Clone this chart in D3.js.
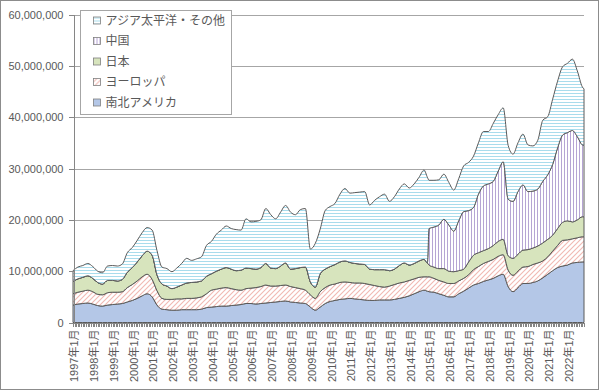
<!DOCTYPE html>
<html>
<head>
<meta charset="utf-8">
<script src="https://cdn.jsdelivr.net/npm/d3@7"></script>
<style>
    html, body { margin: 0; padding: 0; background: #fff; }
    svg { display: block; font-family: "Liberation Sans", "Noto Sans CJK JP", sans-serif; }
    .frame { fill: #fff; stroke: #8c8c8c; }
    .grid line { stroke: #a6a6a6; shape-rendering: crispEdges; }
    .axis path, .axis line { stroke: #868686; shape-rendering: crispEdges; }
    .axis text { fill: #595959; font-size: 11px; }
    .layer { stroke: #5a5a5a; stroke-width: 1; stroke-linejoin: round; }
    .legend rect.box { fill: #fff; stroke: #a6a6a6; shape-rendering: crispEdges; }
    .legend rect.chip { stroke: #7f7f7f; stroke-width: 0.8; }
    .legend text { fill: #595959; font-size: 12px; }
</style>
</head>
<body>
<script>
'use strict';

// Quarterly samples (plus Dec 2014 so China's start is a clean step), values in millions.
const months = [
    '1997-01', '1997-04', '1997-07', '1997-10',
    '1998-01', '1998-04', '1998-07', '1998-10',
    '1999-01', '1999-04', '1999-07', '1999-10',
    '2000-01', '2000-04', '2000-07', '2000-10',
    '2001-01', '2001-04', '2001-07', '2001-10',
    '2002-01', '2002-04', '2002-07', '2002-10',
    '2003-01', '2003-04', '2003-07', '2003-10',
    '2004-01', '2004-04', '2004-07', '2004-10',
    '2005-01', '2005-04', '2005-07', '2005-10',
    '2006-01', '2006-04', '2006-07', '2006-10',
    '2007-01', '2007-04', '2007-07', '2007-10',
    '2008-01', '2008-04', '2008-07', '2008-10',
    '2009-01', '2009-04', '2009-07', '2009-10',
    '2010-01', '2010-04', '2010-07', '2010-10',
    '2011-01', '2011-04', '2011-07', '2011-10',
    '2012-01', '2012-04', '2012-07', '2012-10',
    '2013-01', '2013-04', '2013-07', '2013-10',
    '2014-01', '2014-04', '2014-07', '2014-10', '2014-12',
    '2015-01', '2015-04', '2015-07', '2015-10',
    '2016-01', '2016-04', '2016-07', '2016-10',
    '2017-01', '2017-04', '2017-07', '2017-10',
    '2018-01', '2018-04', '2018-07', '2018-10',
    '2019-01', '2019-04', '2019-07', '2019-10',
    '2020-01', '2020-04', '2020-07', '2020-10',
    '2021-01', '2021-04', '2021-07', '2021-10',
    '2022-01', '2022-04', '2022-07', '2022-10', '2022-11'
];

const americas = [
    3.4, 3.6, 3.7, 3.8,
    3.6, 3.3, 3.2, 3.4,
    3.5, 3.6, 3.7, 4.0,
    4.3, 4.7, 5.2, 5.6,
    5.0, 3.4, 2.6, 2.5,
    2.4, 2.4, 2.5, 2.5,
    2.5, 2.5, 2.6, 2.9,
    3.0, 3.1, 3.2, 3.2,
    3.3, 3.4, 3.5, 3.7,
    3.7, 3.6, 3.7, 3.8,
    3.9, 4.0, 4.1, 4.2,
    4.0, 3.9, 3.8, 3.7,
    3.0, 2.4, 3.0, 3.7,
    4.1, 4.3, 4.5, 4.6,
    4.7, 4.6, 4.5, 4.4,
    4.3, 4.3, 4.4, 4.4,
    4.4, 4.5, 4.7, 4.9,
    5.2, 5.6, 6.0, 6.3, 6.1,
    6.0, 5.9, 5.6, 5.3,
    5.0, 5.0, 5.6, 6.1,
    6.7, 7.3, 7.6, 8.0,
    8.3, 8.6, 9.1, 9.4,
    7.0, 6.0, 6.8, 7.6,
    7.6, 7.8, 8.1, 8.7,
    9.4, 10.1, 10.7, 11.0,
    11.2, 11.6, 11.7, 11.8, 11.8
];

const europe = [
    2.2, 2.3, 2.4, 2.5,
    2.4, 2.2, 2.2, 2.4,
    2.4, 2.3, 2.3, 2.8,
    3.1, 3.4, 3.7, 3.8,
    3.4, 2.8, 2.1, 2.0,
    2.1, 2.2, 2.1, 2.2,
    2.2, 2.3, 2.4, 2.7,
    3.3, 3.4, 3.5, 3.6,
    3.3, 3.0, 2.8, 2.9,
    3.0, 3.2, 3.3, 3.5,
    3.2, 3.1, 3.1, 3.1,
    3.0, 2.9, 2.8, 2.6,
    2.4, 2.3, 3.0, 3.1,
    3.2, 3.2, 3.3, 3.3,
    3.1, 3.1, 3.2, 3.2,
    3.1, 2.9, 2.6, 2.5,
    2.7, 2.9, 3.0, 3.0,
    3.0, 2.9, 2.8, 2.6, 2.8,
    2.9, 2.7, 2.6, 2.6,
    2.6, 2.6, 2.5, 2.5,
    2.6, 3.0, 3.3, 3.5,
    3.6, 3.7, 3.8, 3.8,
    3.2, 3.2, 3.2, 3.2,
    3.3, 3.5, 3.5, 3.3,
    3.4, 3.8, 4.3, 5.0,
    4.9, 4.7, 4.8, 4.9, 4.9
];

const japan = [
    2.4, 2.6, 2.7, 2.8,
    2.6, 2.3, 2.1, 2.4,
    2.3, 2.2, 2.4, 3.0,
    3.3, 3.7, 4.1, 4.5,
    4.7, 3.1, 2.8, 2.6,
    2.1, 2.3, 2.7, 3.0,
    3.1, 3.1, 3.1, 3.4,
    3.2, 3.5, 3.7, 3.9,
    3.8, 3.7, 3.9, 4.0,
    3.8, 3.6, 3.7, 4.2,
    3.5, 3.4, 3.8, 4.3,
    3.4, 3.7, 4.1, 4.5,
    2.5, 2.2, 3.5, 3.6,
    3.6, 3.8, 4.0, 4.1,
    3.9, 3.8, 3.7, 3.7,
    3.0, 3.1, 3.3, 3.4,
    3.0, 3.0, 3.4, 3.7,
    3.0, 3.0, 3.2, 3.4, 2.7,
    2.3, 2.2, 2.3, 2.6,
    2.4, 2.3, 2.0, 1.8,
    2.5, 2.8, 2.7, 2.5,
    2.5, 2.7, 2.9, 3.0,
    2.8, 3.3, 3.3, 3.3,
    3.3, 3.2, 3.3, 3.5,
    3.4, 3.1, 3.3, 3.5,
    3.7, 3.3, 3.5, 3.9, 3.9
];

// China is reported separately only from January 2015.
const china = [
    0, 0, 0, 0,  0, 0, 0, 0,  0, 0, 0, 0,  0, 0, 0, 0,
    0, 0, 0, 0,  0, 0, 0, 0,  0, 0, 0, 0,  0, 0, 0, 0,
    0, 0, 0, 0,  0, 0, 0, 0,  0, 0, 0, 0,  0, 0, 0, 0,
    0, 0, 0, 0,  0, 0, 0, 0,  0, 0, 0, 0,  0, 0, 0, 0,
    0, 0, 0, 0,
    0, 0, 0, 0, 0,
    7.1, 7.8, 8.5, 9.6,
    9.0, 7.9, 9.7, 11.2,
    10.0, 9.3, 11.4, 12.6,
    12.6, 12.5, 13.7, 15.1,
    11.0, 11.1, 12.2, 12.7,
    11.3, 11.1, 11.1, 12.0,
    12.6, 13.8, 15.7, 17.0,
    17.2, 17.8, 16.2, 14.0, 13.9
];

const asiaPacific = [
    2.1, 2.3, 2.3, 2.4,
    2.3, 2.2, 2.2, 2.8,
    2.9, 2.9, 3.0, 3.8,
    3.9, 4.2, 4.5, 4.6,
    4.9, 4.7, 3.3, 3.4,
    3.3, 3.7, 4.2, 4.8,
    4.3, 4.5, 4.7, 6.0,
    6.3, 7.2, 7.6, 8.1,
    7.9, 8.0, 7.8, 9.6,
    9.1, 9.3, 9.3, 10.7,
    10.4, 9.7, 10.5, 11.2,
    11.1, 10.5, 11.3, 11.4,
    6.4, 8.5, 8.7, 11.4,
    11.7, 11.9, 13.2, 14.1,
    13.5, 13.8, 14.0, 14.2,
    12.5, 13.5, 14.2, 14.7,
    13.5, 14.1, 14.9, 15.4,
    15.0, 15.5, 16.3, 17.4, 16.7,
    9.4, 9.1, 8.8, 8.8,
    8.3, 8.0, 8.2, 8.9,
    9.4, 10.0, 10.0, 10.6,
    10.2, 11.3, 11.0, 10.5,
    10.5, 9.2, 9.5, 9.9,
    9.1, 8.8, 9.5, 11.9,
    11.3, 12.7, 13.0, 13.3,
    13.5, 13.9, 12.8, 11.3, 11.0
];

const seriesKeys = ['americas', 'europe', 'japan', 'china', 'asiaPacific'];
const seriesNames = {
    americas: '南北アメリカ',
    europe: 'ヨーロッパ',
    japan: '日本',
    china: '中国',
    asiaPacific: 'アジア太平洋・その他'
};
const yTicks = [0, 10e6, 20e6, 30e6, 40e6, 50e6, 60e6];
const labelYears = d3.range(1997, 2023);
const UNIT = 1e6;

(function () {


    function getPlotArea() {
        return {
            svg: { width: 600, height: 391 },
            left: 73,
            right: 584,
            top: 14.5,
            bottom: 322.5
        };
    }


    function getRows() {
        const parse = d3.timeParse('%Y-%m');
        const values = { americas, europe, japan, china, asiaPacific };
        return months.map((m, i) => {
            const row = { date: parse(m) };
            seriesKeys.forEach((k) => { row[k] = values[k][i] * UNIT; });
            return row;
        });
    }


    function makeScales(plot, rows) {
        return {
            x: d3.scaleTime()
                .domain(d3.extent(rows, (d) => d.date))
                .range([plot.left, plot.right]),
            y: d3.scaleLinear()
                .domain([0, 60e6])
                .range([plot.bottom, plot.top])
        };
    }


    /**
     * Fill styles: solid for the Americas and Japan, Excel-like line patterns for the rest.
     */
    function appendPatterns(svg) {
        const defs = svg.append('defs');

        const hatch = defs.append('pattern')
            .attr('id', 'fill-europe')
            .attr('patternUnits', 'userSpaceOnUse')
            .attr('width', 5).attr('height', 5);
        hatch.append('rect').attr('width', 5).attr('height', 5).attr('fill', '#fff');
        hatch.append('path')
            .attr('d', 'M-1,1 L1,-1 M0,5 L5,0 M4,6 L6,4')
            .attr('stroke', '#f1b9b3').attr('stroke-width', 1.1);

        const vert = defs.append('pattern')
            .attr('id', 'fill-china')
            .attr('patternUnits', 'userSpaceOnUse')
            .attr('width', 3).attr('height', 3);
        vert.append('rect').attr('width', 3).attr('height', 3).attr('fill', '#fff');
        vert.append('rect').attr('width', 1).attr('height', 3).attr('fill', '#b6a5d4');

        const horiz = defs.append('pattern')
            .attr('id', 'fill-asiaPacific')
            .attr('patternUnits', 'userSpaceOnUse')
            .attr('width', 3).attr('height', 3);
        horiz.append('rect').attr('width', 3).attr('height', 3).attr('fill', '#fff');
        horiz.append('rect').attr('width', 3).attr('height', 1).attr('fill', '#a9dcec');
    }


    function fillFor(key) {
        if (key === 'americas') return '#b4c7e7';
        if (key === 'japan') return '#d7e4bd';
        return 'url(#fill-' + key + ')';
    }


    function appendGrid(svg, plot, scales) {
        svg.append('g')
            .attr('class', 'grid')
            .selectAll('line')
            .data(yTicks.slice(1))
            .enter()
            .append('line')
            .attr('x1', plot.left)
            .attr('x2', plot.right)
            .attr('y1', (d) => Math.round(scales.y(d)) + 0.5)
            .attr('y2', (d) => Math.round(scales.y(d)) + 0.5);
    }


    function appendAreas(svg, rows, scales) {
        const stacked = d3.stack().keys(seriesKeys)(rows);
        const area = d3.area()
            .curve(d3.curveMonotoneX)
            .x((d) => scales.x(d.data.date))
            .y0((d) => scales.y(d[0]))
            .y1((d) => scales.y(d[1]));
        svg.append('g')
            .attr('class', 'areas')
            .selectAll('path')
            .data(stacked)
            .enter()
            .append('path')
            .attr('class', 'layer')
            .attr('fill', (s) => fillFor(s.key))
            .attr('d', area);
    }


    function appendAxes(svg, plot, scales, rows) {
        const yAxis = d3.axisLeft(scales.y)
            .tickValues(yTicks)
            .tickSize(5)
            .tickPadding(5)
            .tickFormat(d3.format(','));
        svg.append('g')
            .attr('class', 'axis y')
            .attr('transform', 'translate(' + (plot.left + 0.5) + ',0)')
            .call(yAxis);

        // a tick under every month, as in the category axis of the original
        const last = rows[rows.length - 1].date;
        const monthTicks = d3.timeMonth.range(rows[0].date, d3.timeDay.offset(last, 1));
        const xAxis = d3.axisBottom(scales.x)
            .tickValues(monthTicks)
            .tickSize(4)
            .tickSizeOuter(0)
            .tickFormat('');
        svg.append('g')
            .attr('class', 'axis x')
            .attr('transform', 'translate(0,' + (Math.round(plot.bottom) - 0.5) + ')')
            .call(xAxis);

        const labelFormat = d3.timeFormat('%Y年%-m月');
        svg.append('g')
            .attr('class', 'axis xlabels')
            .selectAll('text')
            .data(labelYears.map((y) => new Date(y, 0, 1)))
            .enter()
            .append('text')
            .attr('transform', (d) => 'translate(' + (scales.x(d) + 1.5) + ',' + (plot.bottom + 7) + ') rotate(-90)')
            .attr('text-anchor', 'end')
            .attr('dy', '0.35em')
            .text(labelFormat);
    }


    function appendLegend(svg) {
        const box = { x: 80.5, y: 10.5, width: 151, height: 104 };
        const rowSpacing = 20.5;
        const legend = svg.append('g').attr('class', 'legend');
        legend.append('rect')
            .attr('class', 'box')
            .attr('x', box.x).attr('y', box.y)
            .attr('width', box.width).attr('height', box.height);
        const order = seriesKeys.slice().reverse();
        const rowsG = legend.selectAll('g.row')
            .data(order)
            .enter()
            .append('g')
            .attr('class', 'row')
            .attr('transform', (d, i) => 'translate(' + (box.x + 13) + ',' + (box.y + 10 + i * rowSpacing) + ')');
        rowsG.append('rect')
            .attr('class', 'chip')
            .attr('x', 0).attr('y', -3.5)
            .attr('width', 7).attr('height', 7)
            .attr('fill', fillFor);
        rowsG.append('text')
            .attr('x', 12)
            .attr('dy', '0.35em')
            .text((d) => seriesNames[d]);
    }


    function draw() {
        const plot = getPlotArea();
        const rows = getRows();
        const scales = makeScales(plot, rows);
        const svg = d3.select('body').append('svg')
            .attr('width', plot.svg.width)
            .attr('height', plot.svg.height);
        appendPatterns(svg);
        svg.append('rect')
            .attr('class', 'frame')
            .attr('x', 0.5).attr('y', 0.5)
            .attr('width', plot.svg.width - 2).attr('height', plot.svg.height - 2);
        appendGrid(svg, plot, scales);
        appendAreas(svg, rows, scales);
        appendAxes(svg, plot, scales, rows);
        appendLegend(svg);
    }


    draw();


})();
</script>
</body>
</html>
